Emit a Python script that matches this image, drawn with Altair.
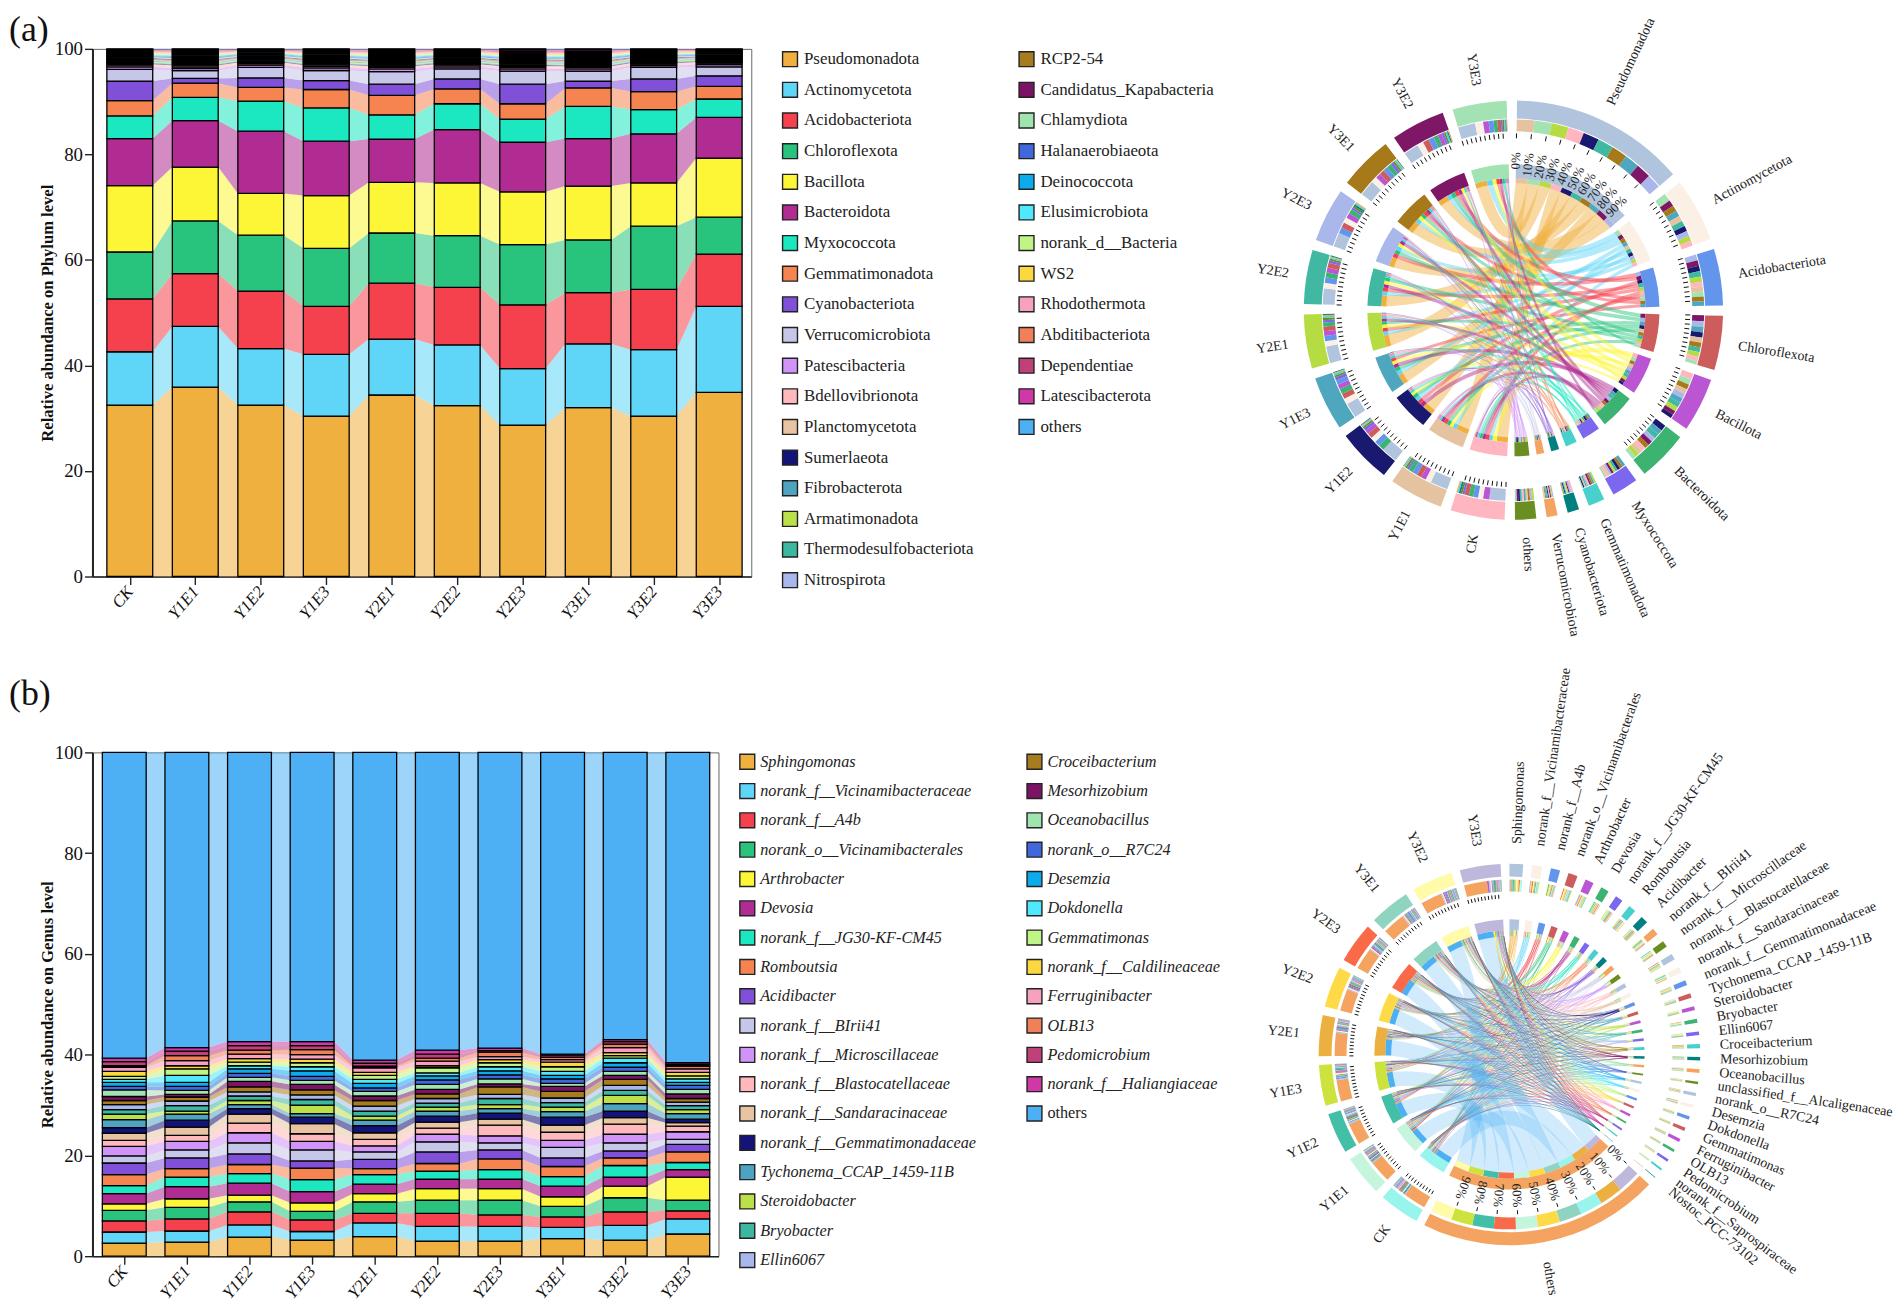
import math
import altair as alt
import pandas as pd

alt.data_transformers.disable_max_rows()
FONT = "Liberation Serif"

samples = ["CK", "Y1E1", "Y1E2", "Y1E3", "Y2E1", "Y2E2", "Y2E3", "Y3E1", "Y3E2", "Y3E3"]

phylum_names = ["Pseudomonadota", "Actinomycetota", "Acidobacteriota", "Chloroflexota", "Bacillota", "Bacteroidota",
                "Myxococcota", "Gemmatimonadota", "Cyanobacteriota", "Verrucomicrobiota", "Patescibacteria",
                "Bdellovibrionota", "Planctomycetota", "Sumerlaeota", "Fibrobacterota", "Armatimonadota",
                "Thermodesulfobacteriota", "Nitrospirota", "RCP2-54", "Candidatus_Kapabacteria", "Chlamydiota",
                "Halanaerobiaeota", "Deinococcota", "Elusimicrobiota", "norank_d__Bacteria", "WS2", "Rhodothermota",
                "Abditibacteriota", "Dependentiae", "Latescibacterota", "others"]
genus_names = ["Sphingomonas", "norank_f__Vicinamibacteraceae", "norank_f__A4b", "norank_o__Vicinamibacterales",
               "Arthrobacter", "Devosia", "norank_f__JG30-KF-CM45", "Romboutsia", "Acidibacter", "norank_f__BIrii41",
               "norank_f__Microscillaceae", "norank_f__Blastocatellaceae", "norank_f__Sandaracinaceae",
               "norank_f__Gemmatimonadaceae", "Tychonema_CCAP_1459-11B", "Steroidobacter", "Bryobacter", "Ellin6067",
               "Croceibacterium", "Mesorhizobium", "Oceanobacillus", "norank_o__R7C24", "Desemzia", "Dokdonella",
               "Gemmatimonas", "norank_f__Caldilineaceae", "Ferruginibacter", "OLB13", "Pedomicrobium",
               "norank_f__Haliangiaceae", "others"]
series_colors = ["#F0B040", "#5FD5F7", "#F4414D", "#28C47D", "#FCF636", "#B02C92", "#1BE8C0", "#F58450", "#8150D8",
                 "#C6C6E8", "#D094F8", "#FFB8BC", "#E8C4A2", "#141478", "#4EA4C0", "#BCE04A", "#3CB8A0", "#A8B8EC",
                 "#A67C1E", "#7C1466", "#A0E4B0", "#4068DC", "#0CACEC", "#50E8FC", "#C0F484", "#FCD840", "#F8A0C0",
                 "#F08058", "#C04078", "#D038A8", "#4DB0F4"]

# cumulative abundance (%), one list per sample
a_CK = [32.5,42.6,52.6,61.5,74.1,83.0,87.3,90.2,93.9,96.1,96.6,96.9,97.1,97.25,97.4,97.57,97.74,97.91,98.08,98.25,98.42,98.59,98.76,98.93,99.1,99.27,99.44,99.61,99.78,99.92]
a_Y1E1 = [35.9,47.4,57.4,67.4,77.6,86.4,90.8,93.5,94.4,95.9,96.3,96.6,96.9,97.05,97.2,97.38,97.55,97.72,97.9,98.1,98.28,98.46,98.63,98.8,98.98,99.16,99.33,99.5,99.68,99.9]
a_Y1E2 = [32.5,43.2,54.1,64.7,72.6,84.4,90.1,92.7,94.5,96.5,96.9,97.2,97.4,97.55,97.68,97.85,98.0,98.16,98.32,98.48,98.64,98.8,98.96,99.1,99.24,99.38,99.52,99.66,99.8,99.92]
a_Y1E3 = [30.4,42.1,51.2,62.2,72.2,82.5,88.8,92.3,94.0,95.9,96.4,96.7,96.95,97.1,97.25,97.42,97.6,97.77,97.95,98.12,98.3,98.47,98.65,98.82,99.0,99.17,99.35,99.52,99.7,99.9]
a_Y2E1 = [34.4,45.0,55.6,65.1,74.7,82.9,87.5,91.2,93.3,95.7,96.2,96.5,96.75,96.9,97.05,97.23,97.42,97.6,97.78,97.96,98.15,98.33,98.52,98.7,98.88,99.07,99.25,99.44,99.62,99.88]
a_Y2E2 = [32.4,43.9,54.8,64.6,74.6,84.7,89.6,92.4,94.3,96.2,96.6,96.9,97.1,97.25,97.4,97.57,97.74,97.91,98.08,98.25,98.42,98.59,98.76,98.93,99.1,99.27,99.44,99.61,99.78,99.92]
a_Y2E3 = [28.7,39.4,51.5,62.9,72.9,82.3,86.7,89.6,93.3,95.8,96.2,96.5,96.75,96.95,97.1,97.27,97.45,97.62,97.8,97.97,98.15,98.32,98.5,98.67,98.85,99.02,99.2,99.37,99.55,99.88]
a_Y3E1 = [32.0,44.1,53.8,63.8,74.0,83.0,89.1,92.6,93.9,95.8,96.2,96.5,96.7,96.85,97.0,97.18,97.36,97.55,97.73,97.95,98.13,98.32,98.5,98.68,98.86,99.05,99.23,99.41,99.6,99.9]
a_Y3E2 = [30.4,43.0,54.4,66.4,74.6,83.9,88.5,91.9,94.3,96.5,96.85,97.1,97.3,97.45,97.6,97.75,97.91,98.07,98.23,98.4,98.56,98.72,98.88,99.04,99.2,99.36,99.52,99.68,99.8,99.92]
a_Y3E3 = [34.9,51.2,61.1,68.1,79.3,87.0,90.5,92.9,94.9,96.6,97.0,97.3,97.5,97.65,97.8,97.95,98.1,98.25,98.4,98.55,98.7,98.85,99.0,99.13,99.26,99.39,99.52,99.65,99.78,99.92]

# cumulative abundance (%), one list per sample
b_CK = [2.6,4.8,7.0,9.1,10.4,12.4,14.0,16.2,18.5,19.9,21.8,23.0,24.4,25.5,27.1,28.2,29.1,30.1,30.9,31.7,33.0,33.7,34.5,35.1,35.7,36.7,37.5,37.8,38.6,39.3]
b_Y1E1 = [2.8,5.0,7.4,9.7,11.4,13.8,15.7,17.4,19.5,21.1,22.8,24.0,25.6,27.0,28.2,28.8,29.9,30.8,31.6,32.1,32.9,33.7,34.5,35.9,37.2,37.8,38.8,39.8,40.7,41.4]
b_Y1E2 = [3.8,6.2,8.8,10.8,12.1,14.5,16.4,18.2,20.3,22.5,24.5,26.4,28.2,29.3,30.1,30.9,31.8,32.6,33.6,34.7,35.5,36.3,37.2,37.8,38.5,39.2,40.1,40.9,41.8,42.6]
b_Y1E3 = [3.2,4.9,7.2,8.9,10.6,12.8,15.2,17.5,18.9,21.1,22.8,24.3,26.3,27.6,28.3,30.0,31.1,32.0,33.0,34.1,34.9,35.7,36.8,37.6,38.4,39.1,40.0,41.0,41.8,42.6]
b_Y2E1 = [3.9,6.6,8.5,10.8,12.4,14.3,16.2,17.4,19.2,20.7,21.9,23.2,24.5,25.9,27.0,27.8,28.8,29.8,30.9,31.8,32.7,33.4,34.3,35.1,35.9,36.5,37.4,37.7,38.3,38.9]
b_Y2E2 = [3.0,5.9,8.5,11.1,13.4,15.3,16.9,18.4,20.7,22.7,24.2,25.4,26.6,27.8,28.8,29.6,30.4,31.3,32.2,33.1,34.1,35.0,35.8,36.4,37.4,37.8,38.7,39.3,40.1,40.9]
b_Y2E3 = [3.0,5.9,8.2,11.1,13.4,15.3,17.2,19.3,21.1,22.5,23.9,26.0,27.2,28.4,29.3,30.1,31.3,32.1,33.6,34.2,35.2,36.0,36.8,37.6,38.4,39.0,39.6,40.5,40.8,41.3]
b_Y3E1 = [3.5,5.7,7.8,9.9,11.8,13.9,15.8,17.8,19.5,21.6,23.0,24.6,26.0,27.6,28.7,29.6,30.5,31.4,32.7,33.7,34.3,35.2,35.9,36.7,37.6,38.5,39.0,39.5,39.9,40.1]
b_Y3E2 = [3.2,6.1,8.8,11.6,13.9,15.7,18.0,19.5,20.9,22.5,24.2,26.2,27.5,28.8,30.3,31.9,32.9,33.9,35.1,35.9,36.7,37.5,38.4,39.3,39.8,40.4,41.4,42.1,42.6,43.0]
b_Y3E3 = [4.4,7.4,9.0,11.1,15.7,17.2,18.6,20.7,22.2,23.2,24.7,25.8,26.5,27.2,28.3,29.1,29.9,30.6,31.3,32.2,33.1,33.9,34.5,35.2,35.8,36.5,37.2,37.7,38.0,38.4]

# genera that appear only in the chord diagram of panel (b)
unclassified_alcaligenaceae = [0.7, 0.5, 0.8, 0.6, 0.5, 0.7, 0.6, 0.6, 0.7, 0.5]
saprospiraceae = [0.6, 0.5, 0.5, 0.6, 0.4, 0.5, 0.5, 0.4, 0.5, 0.4]
nostoc = [0.3, 0.2, 0.1, 0.2, 0.1, 0.1, 0.2, 0.1, 0.1, 0.1]

phy_sector_names = phylum_names[:10] + ["others"]
phy_sample_colors = ["#FFB6C1", "#E5C3A0", "#191970", "#4FA6BF", "#B5DC42", "#40B8A2", "#A9B7EA", "#A6791A", "#7F1767", "#A2E2B3"]
gen_sample_colors = ["#97F5EC", "#C5F5DC", "#43BFA8", "#CDE23C", "#ECB040", "#FFDA47", "#FA6A48", "#8FD3C1", "#FFFBA8", "#BEB8DC"]
sector_cycle = ["#B0C4DE", "#FAF0E6", "#6495ED", "#CD5C5C", "#BA55D3", "#3CB371", "#7B68EE", "#48D1CC", "#008080", "#F4A460", "#6B8E23"]
gen_sector_names = genus_names[:21] + ["unclassified_f__Alcaligenaceae"] + genus_names[21:25] + genus_names[26:29] + \
    ["norank_f__Saprospiraceae", "Nostoc_PCC-73102", "others"]

cum_a = [a_CK, a_Y1E1, a_Y1E2, a_Y1E3, a_Y2E1, a_Y2E2, a_Y2E3, a_Y3E1, a_Y3E2, a_Y3E3]
cum_b = [b_CK, b_Y1E1, b_Y1E2, b_Y1E3, b_Y2E1, b_Y2E2, b_Y2E3, b_Y3E1, b_Y3E2, b_Y3E3]


def bar_panel(cum, names, title, w, h, xdom, label, lx, ly):
    half = 0.35
    rects, links = [], []
    for s, c in enumerate(cum):
        full = [0.0] + c + [100.0]
        for k, name in enumerate(names):
            rects.append(dict(x0=s - half, x1=s + half, y0=full[k], y1=full[k + 1], color=series_colors[k], o=k))
            if s < len(cum) - 1:
                nxt = [0.0] + cum[s + 1] + [100.0]
                key = f"k{k}s{s}"
                links.append(dict(x=s + half, y0=full[k], y1=full[k + 1], color=series_colors[k], key=key))
                links.append(dict(x=s + 1 - half, y0=nxt[k], y1=nxt[k + 1], color=series_colors[k], key=key))
    xs = alt.Scale(domain=xdom, nice=False, zero=False)
    ys = alt.Scale(domain=[0, 100], nice=False)
    label_expr = "[" + ",".join(f"'{n}'" for n in samples) + "][datum.value]"
    xax = alt.Axis(values=list(range(10)), labelExpr=label_expr, grid=False, title=None, labelAngle=-50, labelAlign="right",
                   labelBaseline="middle", labelFont=FONT, labelFontSize=17, labelFontStyle="italic", labelColor="#111", tickSize=8, tickWidth=1.4,
                   tickColor="#222", domainColor="#222", domainWidth=1.6, labelPadding=4, labelOverlap=False, labelFlush=False)
    yax = alt.Axis(values=[0, 20, 40, 60, 80, 100], grid=False, title=title, titleFont=FONT, titleFontSize=16.7, titleFontWeight="bold",
                   titleColor="#111", titlePadding=-2, labelFont=FONT, labelFontSize=19, labelColor="#111", tickSize=8, tickWidth=1.4,
                   tickColor="#222", domainColor="#222", domainWidth=2, labelPadding=2)
    link_layer = alt.Chart(pd.DataFrame(links)).mark_area(opacity=0.55, orient="vertical").encode(
        x=alt.X("x:Q", scale=xs, axis=xax), y=alt.Y("y0:Q", scale=ys, axis=yax), y2=alt.Y2("y1:Q"),
        color=alt.Color("color:N", scale=None), detail="key:N")
    rect_layer = alt.Chart(pd.DataFrame(rects)).mark_rect(stroke="#000", strokeWidth=1.3).encode(
        x=alt.X("x0:Q", scale=xs), x2="x1:Q", y=alt.Y("y0:Q", scale=ys), y2="y1:Q",
        color=alt.Color("color:N", scale=None), order="o:Q")
    lab = alt.Chart(pd.DataFrame({"t": [label]})).mark_text(font=FONT, fontSize=36, align="left", baseline="top", color="#111").encode(
        text="t:N", x=alt.value(lx), y=alt.value(ly))
    return alt.layer(link_layer, rect_layer, lab).properties(width=w, height=h, view=alt.ViewBackground(stroke="#666", strokeWidth=1))


def legend_panel(names, w, h, col_x, step, first_y, nrow, italic, fs, dx):
    rows = []
    for i, n in enumerate(names):
        rows.append(dict(name=n, col=0 if i < nrow else 1, row=i if i < nrow else i - nrow, color=series_colors[i],
                         up=(n == "others")))
    df = pd.DataFrame(rows)
    col_step = col_x[1] - col_x[0]
    xs = alt.Scale(domain=[-col_x[0] / col_step, (w - col_x[0]) / col_step], nice=False, zero=False)
    ys = alt.Scale(domain=[(h - first_y) / step, -first_y / step], nice=False, zero=False)
    enc = dict(x=alt.X("col:Q", scale=xs, axis=None), y=alt.Y("row:Q", scale=ys, axis=None))
    sw = alt.Chart(df).mark_square(size=225, stroke="#222", strokeWidth=1.4, opacity=1).encode(
        color=alt.Color("color:N", scale=None), **enc)
    t1 = alt.Chart(df[~df.up]).mark_text(font=FONT, fontSize=fs, align="left", baseline="middle", dx=dx, color="#222",
                                         fontStyle="italic" if italic else "normal").encode(text="name:N", **enc)
    t2 = alt.Chart(df[df.up]).mark_text(font=FONT, fontSize=fs, align="left", baseline="middle", dx=dx, color="#222").encode(text="name:N", **enc)
    return alt.layer(sw, t1, t2).properties(width=w, height=h, view=alt.ViewBackground(stroke=None))


def chord_panel(names, sec_colors, rib_colors, samp_colors, M, gap, start, R, w, h, cx, cy, label_r, tick_min, fs, rib_op, others_op):
    nr, ns = len(names), len(samples)
    k = (360 - gap * (nr + ns)) / (100.0 * ns * 2)
    ang = start
    all_names = names + samples
    all_cols = sec_colors + samp_colors
    arcs, ticks, labels, pct = [], [], [], []
    seg = {}
    for i in range(nr + ns):
        if i < nr:
            vals = [(M[i][s], s) for s in range(ns)]
        else:
            vals = [(M[r][i - nr], r) for r in range(nr)]
        a0 = ang
        cur = ang
        for v, j in sorted(vals, key=lambda q: -q[0]):
            a1 = cur + v * k
            col = samp_colors[j] if i < nr else rib_colors[j]
            stack_col = samp_colors[j] if i < nr else sec_colors[j]
            arcs.append(dict(a=math.radians(cur), b=math.radians(a1), r0=R["stack"][0], r1=R["stack"][1], c=stack_col))
            arcs.append(dict(a=math.radians(cur), b=math.radians(a1), r0=R["thin"][0], r1=R["thin"][1], c=col))
            seg[(i, j)] = (cur, a1)
            cur = a1
        a1 = cur
        arcs.append(dict(a=math.radians(a0), b=math.radians(a1), r0=R["outer"][0], r1=R["outer"][1], c=all_cols[i]))
        arcs.append(dict(a=math.radians(a0), b=math.radians(a1), r0=R["inner"][0], r1=R["inner"][1], c=all_cols[i]))
        mid = (a0 + a1) / 2
        mr = math.radians(mid)
        labels.append(dict(x=label_r * math.sin(mr), y=label_r * math.cos(mr), name=all_names[i],
                           right=(mid % 360) <= 180, rot=((mid - 90) if (mid % 360) <= 180 else (mid + 90)) % 360))
        if a1 - a0 >= tick_min:
            for d in range(10):
                th = math.radians(a0 + (a1 - a0) * d / 10)
                ticks.append(dict(x=R["tick"][0] * math.sin(th), y=R["tick"][0] * math.cos(th),
                                  x2=R["tick"][1] * math.sin(th), y2=R["tick"][1] * math.cos(th)))
                if (a1 - a0) > 30:
                    pct.append(dict(x=R["pct"] * math.sin(th), y=R["pct"] * math.cos(th), t=f"{d*10}%",
                                    rot=(math.degrees(th) - 90) % 360))
        ang = a1 + gap
    ribs = []
    rc = R["thin"][0]
    for r in range(nr):
        op = others_op if r == nr - 1 else rib_op
        for s in range(ns):
            p0, p1 = seg[(r, s)]
            q0, q1 = seg[(nr + s, r)]
            am, bm = math.radians((p0 + p1) / 2), math.radians((q0 + q1) / 2)
            w0 = math.radians(p1 - p0) * rc
            w1 = math.radians(q1 - q0) * rc
            x0, y0 = rc * math.sin(am), rc * math.cos(am)
            x1, y1 = rc * math.sin(bm), rc * math.cos(bm)
            cxm, cym = 0.12 * (x0 + x1), 0.12 * (y0 + y1)
            for n in range(15):
                t = n / 14
                ribs.append(dict(key=f"{r}-{s}", t=t,
                                 x=(1 - t) ** 2 * x0 + 2 * t * (1 - t) * cxm + t ** 2 * x1,
                                 y=(1 - t) ** 2 * y0 + 2 * t * (1 - t) * cym + t ** 2 * y1,
                                 size=max(0.6, (1 - t) ** 2 * w0 + t ** 2 * w1 + t * (1 - t) * 0.8 * (w0 + w1)),
                                 c=rib_colors[r], op=op))
    xs = alt.Scale(domain=[-cx, w - cx], nice=False, zero=False)
    ys = alt.Scale(domain=[cy - h, cy], nice=False, zero=False)
    px = alt.X("x:Q", scale=xs, axis=None)
    py = alt.Y("y:Q", scale=ys, axis=None)
    adf = pd.DataFrame(arcs)
    adf["x"] = 0.0
    adf["y"] = 0.0
    rib_layer = alt.Chart(pd.DataFrame(ribs)).mark_trail().encode(
        x=px, y=py, size=alt.Size("size:Q", scale=None), color=alt.Color("c:N", scale=None),
        opacity=alt.Opacity("op:Q", scale=None), detail="key:N", order="t:Q")
    arc_layer = alt.Chart(adf).mark_arc().encode(
        x=px, y=py, theta=alt.Theta("a:Q", scale=None, stack=None), theta2="b:Q",
        radius=alt.Radius("r1:Q", scale=None), radius2="r0:Q", color=alt.Color("c:N", scale=None))
    tick_layer = alt.Chart(pd.DataFrame(ticks)).mark_rule(color="#111", strokeWidth=1).encode(
        x=px, y=py, x2="x2:Q", y2="y2:Q")
    ldf = pd.DataFrame(labels)
    lr = alt.Chart(ldf[ldf.right]).mark_text(font=FONT, fontSize=fs, align="left", baseline="middle", color="#222").encode(
        x=px, y=py, text="name:N", angle=alt.Angle("rot:Q", scale=None))
    ll = alt.Chart(ldf[~ldf.right]).mark_text(font=FONT, fontSize=fs, align="right", baseline="middle", color="#222").encode(
        x=px, y=py, text="name:N", angle=alt.Angle("rot:Q", scale=None))
    pl = alt.Chart(pd.DataFrame(pct)).mark_text(font=FONT, fontSize=13, align="right", baseline="middle", color="#222").encode(
        x=px, y=py, text="t:N", angle=alt.Angle("rot:Q", scale=None))
    return alt.layer(rib_layer, arc_layer, tick_layer, lr, ll, pl).properties(width=w, height=h, view=alt.ViewBackground(stroke=None))


def matrix_a():
    m = []
    for i in range(10):
        m.append([c[i] - (c[i - 1] if i else 0.0) for c in cum_a])
    m.append([100.0 - c[9] for c in cum_a])
    return m


def matrix_b():
    full = {n: [] for n in genus_names}
    for c in cum_b:
        f = [0.0] + c + [100.0]
        for k, n in enumerate(genus_names):
            full[n].append(f[k + 1] - f[k])
    full["unclassified_f__Alcaligenaceae"] = unclassified_alcaligenaceae
    full["norank_f__Saprospiraceae"] = saprospiraceae
    full["Nostoc_PCC-73102"] = nostoc
    m = []
    for n in gen_sector_names[:-1]:
        m.append(full[n])
    m.append([100.0 - sum(m[r][s] for r in range(len(m))) for s in range(10)])
    return m


def spacer(h):
    return alt.Chart(pd.DataFrame({"a": [0]})).mark_point(opacity=0).encode(x=alt.value(0)).properties(
        width=1, height=h, view=alt.ViewBackground(stroke=None))


phy_rib = series_colors[:10] + ["#D094F8"]
gen_rib = series_colors[:21] + ["#4068DC", "#0CACEC", "#50E8FC", "#C0F484", "#FCD840", "#F8A0C0", "#F08058", "#C04078", "#D038A8", "#008080", "#4DB0F4"]
gen_sec = [sector_cycle[i % 11] for i in range(len(gen_sector_names) - 1)] + ["#F4A460"]

bar_a = bar_panel(cum_a, phylum_names, "Relative abundance on Phylum level", 663, 531, [-0.57, 9.49], "(a)", -84, -35.5)
bar_b = bar_panel(cum_b, genus_names, "Relative abundance on Genus level", 630, 507, [-0.508, 9.49], "(b)", -84, -76)

leg_a = legend_panel(phylum_names, 427, 531, [39, 277], 30.84, 10.4, 18, False, 17, 14)
leg_b = legend_panel(genus_names, 427, 507, [-4, 285], 29.5, 9.4, 18, True, 16.3, 13)

rad_a = dict(outer=(193, 211), stack=(180, 192), tick=(173, 178), pct=159, inner=(133, 147), thin=(128, 133))
rad_b = dict(outer=(179, 192), stack=(164, 176), tick=(157, 161), pct=154, inner=(125, 136), thin=(119, 125))
chord_a = chord_panel(phy_sector_names, sector_cycle, phy_rib, phy_sample_colors, matrix_a(), 2.857, 1, rad_a, 680, 531, 340, 263, 229, 10, 14, 0.48, 0.48)
chord_b = chord_panel(gen_sector_names, gen_sec, gen_rib, gen_sample_colors, matrix_b(), 2.65, 0, rad_b, 680, 507, 336, 304, 212, 11, 14, 0.55, 0.26)

chart = alt.concat(bar_a, leg_a, chord_a, spacer(177), spacer(177), spacer(177), bar_b, leg_b, chord_b,
                   columns=3, spacing=0, bounds="flush").properties(padding=0, background="white").configure(font=FONT)
chart.save("out.html", embed_options={"renderer": "svg", "actions": False})
